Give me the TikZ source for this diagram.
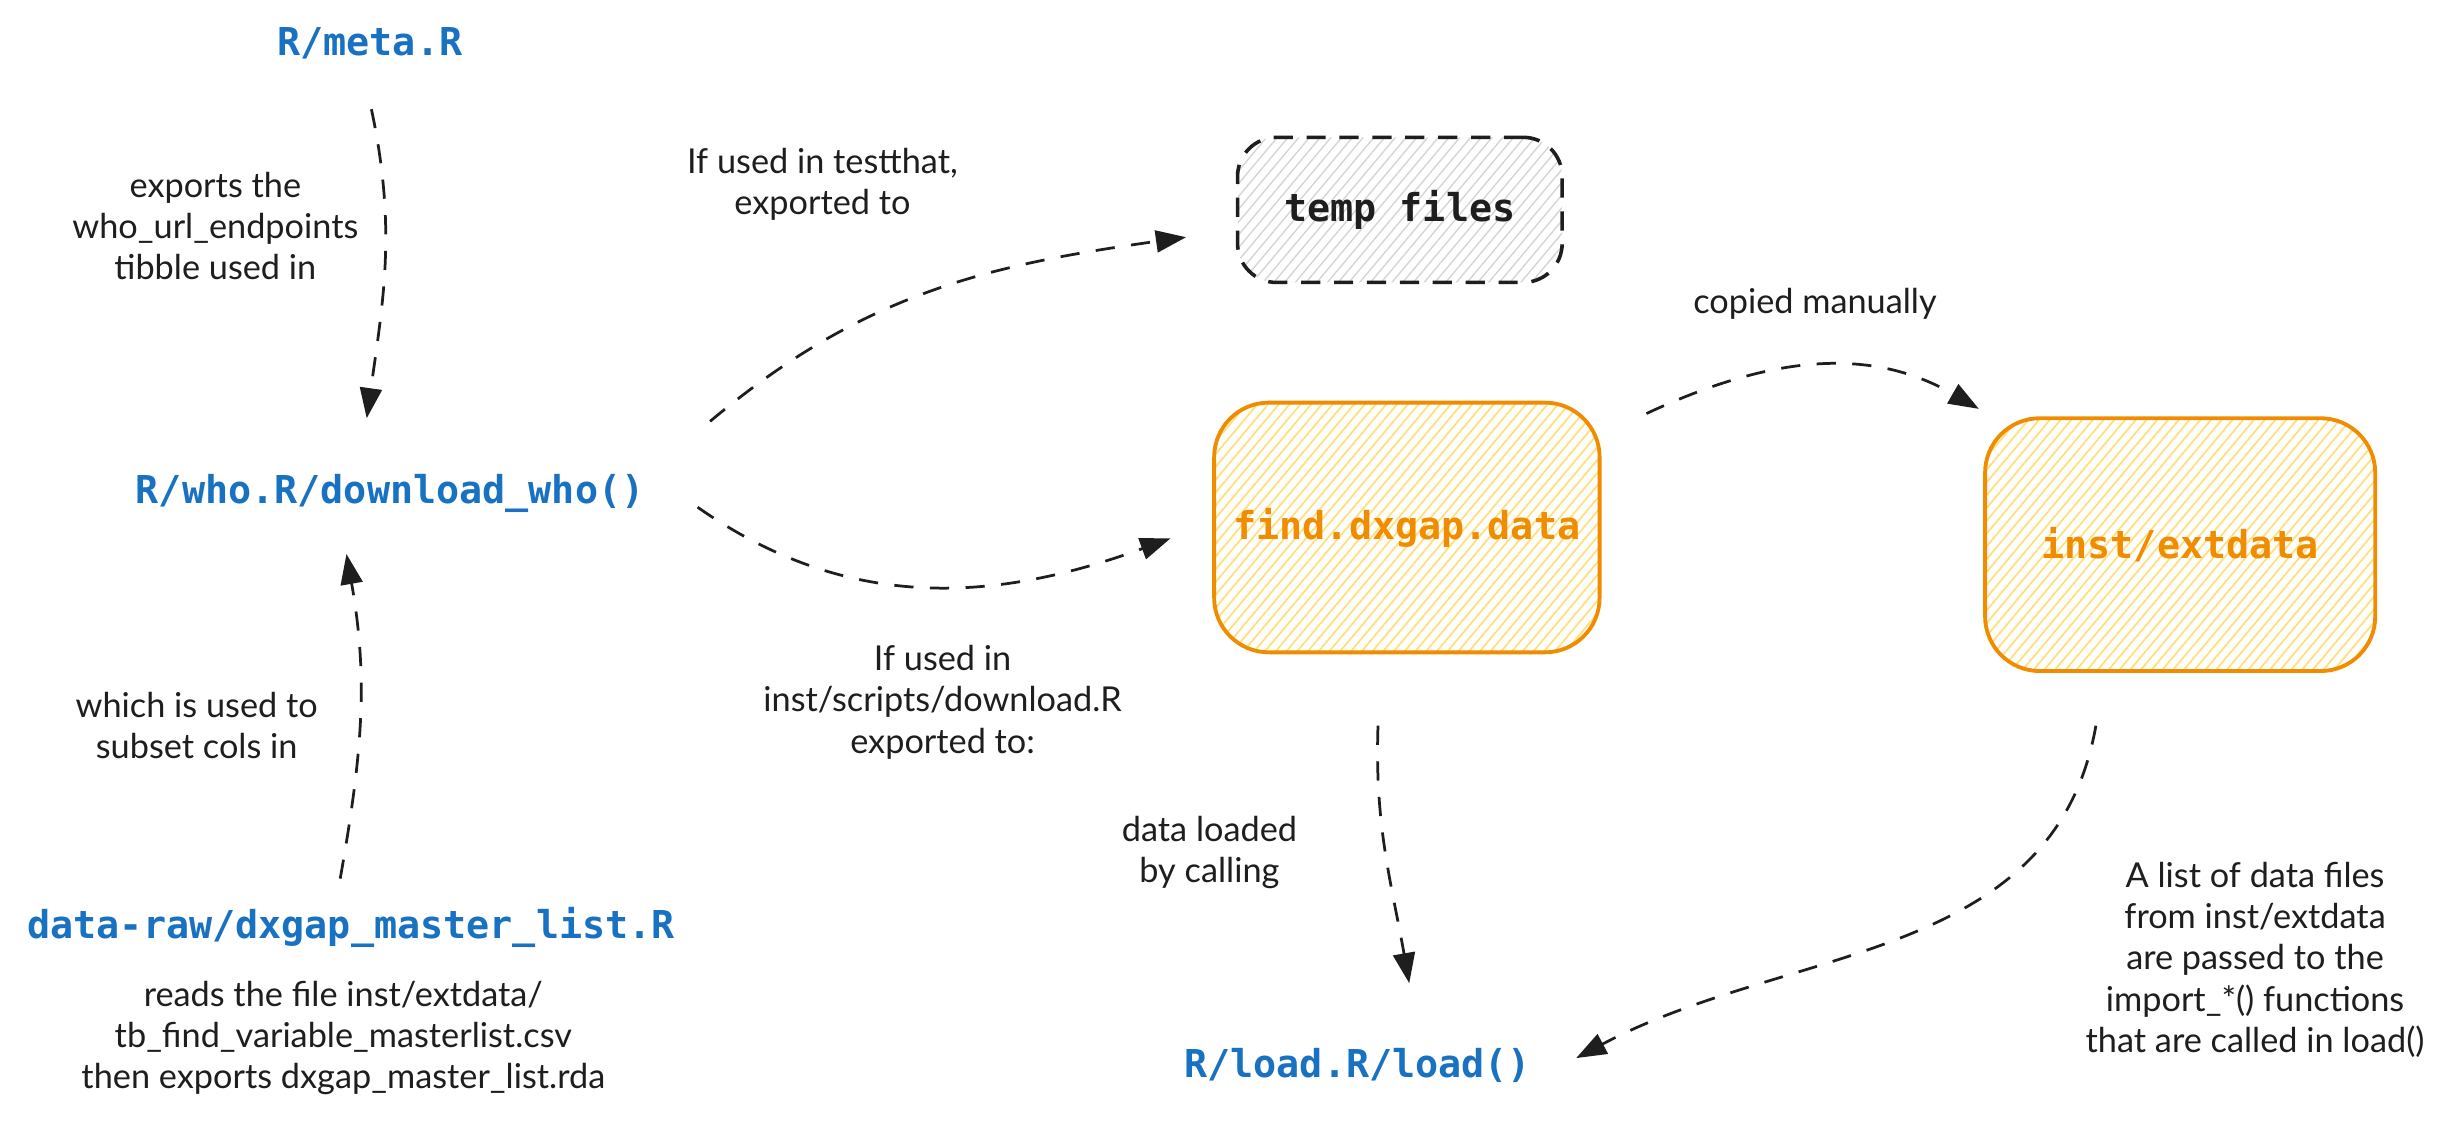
\documentclass[tikz,border=0pt]{standalone}
\usepackage{fontspec}
\setmainfont{Lato}
\setmonofont{DejaVu Sans Mono}
\usetikzlibrary{arrows.meta,patterns.meta}
\definecolor{figink}{RGB}{30,30,30}
\definecolor{figblue}{RGB}{25,113,194}
\definecolor{figorange}{RGB}{240,140,0}
\definecolor{fighatch}{RGB}{255,222,115}
\definecolor{figgrey}{RGB}{212,212,212}
\tikzset{
  code/.style ={font=\ttfamily\bfseries\fontsize{14}{16}\selectfont, text=figblue, inner sep=1pt},
  hand/.style ={font=\fontsize{12.5}{15}\selectfont, text=figink, align=center, inner sep=1pt},
  flow/.style ={draw=figink, line width=1pt, dash pattern=on 7pt off 6pt, -{Triangle[length=11pt,width=8pt]}},
  boxo/.style ={draw=figorange, line width=1.4pt, rounded corners=0.7cm,
                pattern={Lines[angle=50,distance=3pt,line width=0.6pt]}, pattern color=fighatch,
                font=\ttfamily\bfseries\fontsize{14}{16}\selectfont, text=figorange},
  boxg/.style ={draw=figink, line width=1.3pt, rounded corners=0.5cm, dash pattern=on 7pt off 5pt,
                pattern={Lines[angle=50,distance=3pt,line width=0.5pt]}, pattern color=figgrey,
                font=\ttfamily\bfseries\fontsize{14}{16}\selectfont, text=figink},
}
\begin{document}
\begin{tikzpicture}
  \fill[white] (0,0) rectangle (31.36,-14.38);
  \node[code] (meta) at (4.74,-0.56) {R/meta.R};
  \node[code] (who) at (5.00,-6.32) {R/who.R/download\_who()};
  \node[code] (dxraw) at (4.50,-11.88) {data-raw/dxgap\_master\_list.R};
  \node[code] (load) at (17.40,-13.66) {R/load.R/load()};
  \node[boxg, minimum width=4.16cm, minimum height=1.86cm] (temp) at (17.94,-2.69) {temp files};
  \node[boxo, minimum width=4.94cm, minimum height=3.2cm] (findd) at (18.03,-6.76) {find.dxgap.data};
  \node[boxo, minimum width=5.0cm, minimum height=3.24cm] (instx) at (27.94,-6.98) {inst/extdata};
  \node[hand] (lexp) at (2.76,-2.90) {exports the\\who\_url\_endpoints\\tibble used in};
  \node[hand] (lsub) at (2.52,-9.30) {which is used to\\subset cols in};
  \node[hand] (lread) at (4.40,-13.30) {reads the file inst/extdata/\\tb\_find\_variable\_masterlist.csv\\then exports dxgap\_master\_list.rda};
  \node[hand] (ltest) at (10.54,-2.36) {If used in testthat,\\exported to};
  \node[hand] (lscr) at (12.08,-9.00) {If used in\\inst/scripts/download.R\\exported to:};
  \node[hand] (lcopy) at (23.26,-3.90) {copied manually};
  \node[hand] (lcall) at (15.50,-10.92) {data loaded\\by calling};
  \node[hand] (llist) at (28.90,-12.30) {A list of data files\\from inst/extdata\\are passed to the\\import\_*() functions\\that are called in load()};
  \draw[flow] ([shift={(0.02,-0.84)}]meta.center) to[out=-78,in=82] ([shift={(-0.30,0.96)}]who.center);
  \draw[flow] ([shift={(-0.14,0.62)}]dxraw.center) to[out=80,in=-80] ([shift={(-0.56,-0.78)}]who.center);
  \draw[flow] ([shift={(4.10,0.92)}]who.center) to[out=40,in=188] ([shift={(-2.74,-0.35)}]temp.center);
  \draw[flow] ([shift={(3.94,-0.18)}]who.center) to[out=-35,in=200] ([shift={(-3.03,-0.14)}]findd.center);
  \draw[flow] ([shift={(3.07,1.46)}]findd.center) to[out=25,in=150] ([shift={(-2.58,1.74)}]instx.center);
  \draw[flow] ([shift={(-0.37,-2.54)}]findd.center) to[out=-92,in=100] ([shift={(0.66,1.06)}]load.center);
  \draw[flow] ([shift={(-1.08,-2.32)}]instx.center) to[out=-100,in=28] ([shift={(2.80,0.10)}]load.center);
\end{tikzpicture}
\end{document}
